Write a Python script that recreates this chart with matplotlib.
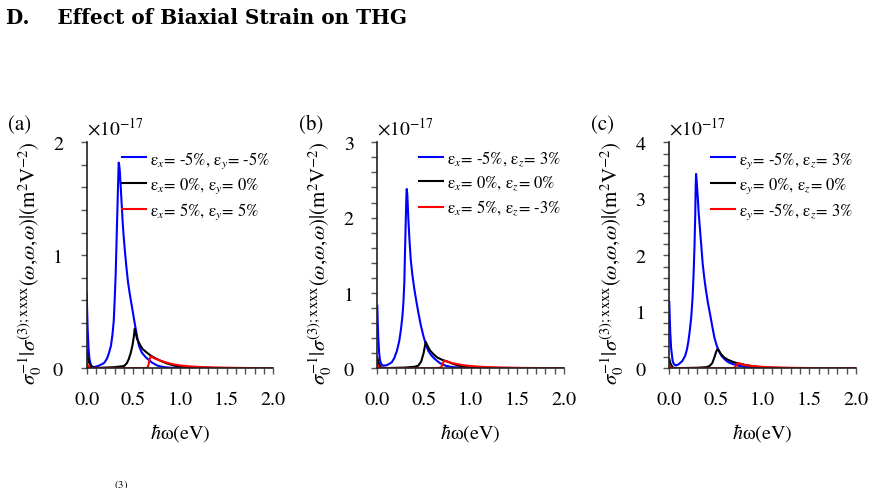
import matplotlib
matplotlib.use("Agg")
import matplotlib.pyplot as plt
from matplotlib.ticker import MultipleLocator, FormatStrFormatter

plt.rcParams['font.family'] = ['STIXGeneral', 'DejaVu Serif']
plt.rcParams['mathtext.fontset'] = 'stix'

# values in units of 1e-17 m^2 V^-2
# panel (a)
a_blue_x = [0.0, 0.005, 0.01, 0.02, 0.03, 0.045, 0.06, 0.08, 0.12, 0.16, 0.19, 0.22, 0.24, 0.26,
            0.275, 0.29, 0.30, 0.31, 0.318, 0.325, 0.332, 0.338, 0.343, 0.348, 0.355, 0.365,
            0.375, 0.385, 0.395, 0.407, 0.425, 0.443, 0.465, 0.49, 0.51, 0.525, 0.545, 0.56,
            0.59, 0.63, 0.70, 0.76, 0.83, 0.90, 1.0, 2.0]
a_blue_y = [0.66, 0.5, 0.35, 0.17, 0.08, 0.03, 0.015, 0.01, 0.02, 0.035, 0.05, 0.09, 0.14, 0.2,
            0.29, 0.42, 0.61, 0.82, 1.06, 1.28, 1.50, 1.68, 1.82, 1.80, 1.74, 1.6,
            1.45, 1.3, 1.18, 1.06, 0.9, 0.76, 0.64, 0.52, 0.42, 0.35, 0.26, 0.2,
            0.14, 0.10, 0.05, 0.023, 0.01, 0.005, 0.002, 0.0]
a_black_x = [0.0, 0.01, 0.02, 0.05, 0.1, 0.3, 0.40, 0.43, 0.45, 0.47, 0.49, 0.505, 0.515, 0.525,
             0.54, 0.57, 0.60, 0.65, 0.69, 0.74, 0.79, 0.86, 0.94, 1.02, 1.1, 1.4, 2.0]
a_black_y = [0.156, 0.1, 0.06, 0.01, 0.003, 0.01, 0.02, 0.045, 0.08, 0.13, 0.2, 0.28, 0.35, 0.31,
             0.26, 0.21, 0.17, 0.135, 0.11, 0.087, 0.067, 0.043, 0.023, 0.012, 0.008, 0.002, 0.0]
a_red_x = [0.0, 0.015, 0.03, 0.1, 0.64, 0.655, 0.665, 0.675, 0.685, 0.70, 0.72, 0.76, 0.80, 0.85,
           0.90, 0.95, 1.0, 1.1, 1.2, 1.35, 1.5, 1.7, 2.0]
a_red_y = [0.045, 0.02, 0.005, 0.0, 0.003, 0.01, 0.04, 0.08, 0.105, 0.1, 0.09, 0.077, 0.065, 0.052,
           0.04, 0.032, 0.025, 0.017, 0.012, 0.008, 0.005, 0.003, 0.001]

# panel (b)
b_blue_x = [0.0, 0.005, 0.01, 0.02, 0.03, 0.045, 0.064, 0.1, 0.13, 0.155, 0.18, 0.21, 0.235, 0.254,
            0.27, 0.28, 0.29, 0.297, 0.305, 0.312, 0.316, 0.322, 0.333, 0.345, 0.358, 0.375,
            0.397, 0.42, 0.44, 0.465, 0.494, 0.52, 0.547, 0.58, 0.62, 0.67, 0.73, 0.80, 0.90, 1.0, 2.0]
b_blue_y = [0.83, 0.6, 0.42, 0.2, 0.1, 0.05, 0.035, 0.04, 0.06, 0.08, 0.13, 0.23, 0.36, 0.52,
            0.7, 0.875, 1.15, 1.54, 1.95, 2.3, 2.38, 2.3, 1.98, 1.7, 1.45, 1.25,
            1.05, 0.88, 0.74, 0.58, 0.43, 0.32, 0.23, 0.17, 0.12, 0.07, 0.035, 0.017, 0.007, 0.003, 0.0]
b_black_x = [0.0, 0.01, 0.02, 0.04, 0.1, 0.3, 0.40, 0.44, 0.47, 0.494, 0.51, 0.52, 0.53, 0.55,
             0.57, 0.60, 0.64, 0.69, 0.75, 0.81, 0.87, 0.93, 1.0, 1.15, 1.3, 2.0]
b_black_y = [0.146, 0.09, 0.05, 0.01, 0.003, 0.01, 0.02, 0.035, 0.09, 0.19, 0.29, 0.35, 0.32, 0.27,
             0.23, 0.19, 0.146, 0.115, 0.09, 0.06, 0.035, 0.022, 0.015, 0.008, 0.004, 0.0]
b_red_x = [0.0, 0.015, 0.03, 0.1, 0.60, 0.68, 0.695, 0.705, 0.716, 0.73, 0.75, 0.80, 0.85, 0.90,
           0.95, 1.0, 1.1, 1.2, 1.35, 1.5, 1.75, 2.0]
b_red_y = [0.05, 0.02, 0.005, 0.0, 0.002, 0.008, 0.04, 0.07, 0.10, 0.095, 0.09, 0.07, 0.057, 0.045,
           0.037, 0.03, 0.021, 0.015, 0.01, 0.006, 0.003, 0.001]

# panel (c)
c_blue_x = [0.0, 0.005, 0.01, 0.02, 0.036, 0.05, 0.07, 0.1, 0.14, 0.17, 0.19, 0.205, 0.22, 0.235,
            0.25, 0.26, 0.27, 0.278, 0.283, 0.287, 0.292, 0.298, 0.305, 0.315, 0.33, 0.345,
            0.358, 0.375, 0.394, 0.415, 0.437, 0.46, 0.483, 0.505, 0.53, 0.56, 0.59, 0.63,
            0.68, 0.74, 0.80, 0.90, 1.0, 2.0]
c_blue_y = [1.17, 0.9, 0.65, 0.35, 0.13, 0.07, 0.05, 0.07, 0.13, 0.22, 0.34, 0.48, 0.67, 0.9,
            1.26, 1.65, 2.14, 2.7, 3.2, 3.44, 3.35, 3.2, 3.03, 2.75, 2.44, 2.13,
            1.85, 1.6, 1.37, 1.15, 0.96, 0.75, 0.55, 0.42, 0.31, 0.22, 0.165, 0.11,
            0.076, 0.045, 0.03, 0.01, 0.004, 0.0]
c_black_x = [0.0, 0.01, 0.02, 0.04, 0.1, 0.3, 0.40, 0.43, 0.46, 0.483, 0.50, 0.515, 0.53, 0.555,
             0.59, 0.63, 0.68, 0.73, 0.80, 0.86, 0.93, 1.0, 1.15, 1.3, 2.0]
c_black_y = [0.165, 0.1, 0.06, 0.01, 0.003, 0.01, 0.02, 0.04, 0.09, 0.19, 0.28, 0.34, 0.32, 0.25,
             0.19, 0.15, 0.115, 0.09, 0.065, 0.045, 0.028, 0.015, 0.008, 0.004, 0.0]
c_red_x = [0.0, 0.015, 0.03, 0.1, 0.65, 0.70, 0.712, 0.722, 0.734, 0.75, 0.80, 0.85, 0.90, 1.0,
           1.1, 1.2, 1.35, 1.5, 2.0]
c_red_y = [0.04, 0.015, 0.004, 0.0, 0.002, 0.01, 0.04, 0.07, 0.09, 0.085, 0.06, 0.05, 0.04, 0.025,
           0.017, 0.012, 0.008, 0.005, 0.001]

labels_a = [r'ε$_x$= -5%, ε$_y$= -5%', r'ε$_x$= 0%, ε$_y$= 0%', r'ε$_x$= 5%, ε$_y$= 5%']
labels_b = [r'ε$_x$= -5%, ε$_z$= 3%', r'ε$_x$= 0%, ε$_z$= 0%', r'ε$_x$= 5%, ε$_z$= -3%']
labels_c = [r'ε$_y$= -5%, ε$_z$= 3%', r'ε$_y$= 0%, ε$_z$= 0%', r'ε$_y$= -5%, ε$_z$= 3%']

panels = [
    ('(a)', 2, [(a_blue_x, a_blue_y), (a_black_x, a_black_y), (a_red_x, a_red_y)], labels_a, 0.0991),
    ('(b)', 3, [(b_blue_x, b_blue_y), (b_black_x, b_black_y), (b_red_x, b_red_y)], labels_b, 0.4312),
    ('(c)', 4, [(c_blue_x, c_blue_y), (c_black_x, c_black_y), (c_red_x, c_red_y)], labels_c, 0.7649),
]
colors = ['#0000ff', 'black', '#ff0000']

fig = plt.figure(figsize=(8.75, 4.89), dpi=100)

fig.text(0.007, 0.963, 'D.    Effect of Biaxial Strain on THG', fontsize=14.4, fontweight='bold',
         family='DejaVu Serif', va='center', ha='left')

ylabel = r'$\sigma_0^{-1}|\sigma^{(3);\mathrm{xxxx}}(\omega{,}\omega{,}\omega)|(\mathrm{m}^2\mathrm{V}^{-2})$'

for tag, ymax, series, labels, left in panels:
    ax = fig.add_axes([left, 0.2448, 0.2132, 0.4622])
    for (x, y), c, lab in zip(series, colors, labels):
        ax.plot(x, y, color=c, lw=1.5, label=lab, solid_joinstyle='round')
    ax.set_xlim(0, 2.0)
    ax.set_ylim(0, ymax)
    ax.xaxis.set_major_locator(MultipleLocator(0.5))
    ax.xaxis.set_minor_locator(MultipleLocator(0.1))
    ax.yaxis.set_major_locator(MultipleLocator(1))
    ax.yaxis.set_minor_locator(MultipleLocator(0.2))
    ax.xaxis.set_major_formatter(FormatStrFormatter('%.1f'))
    ax.tick_params(which='both', direction='out', color='#555555', labelsize=14.5, length=4, width=1)
    ax.tick_params(axis='x', which='major', pad=12)
    ax.tick_params(axis='y', which='major', pad=13)
    for s in ['top', 'right']:
        ax.spines[s].set_visible(False)
    for s in ['left', 'bottom']:
        ax.spines[s].set_linewidth(1.2)
        ax.spines[s].set_color('#222222')
    ax.set_xlabel(r'$\hbar$ω(eV)', fontsize=14.5, labelpad=10)
    ax.set_ylabel(ylabel, fontsize=15)
    ax.yaxis.set_label_coords(-0.23, 0.47)
    ax.legend(loc='upper right', bbox_to_anchor=(1.02, 1.0), frameon=False, fontsize=12,
              handlelength=1.45, handletextpad=0.25, labelspacing=0.35, borderaxespad=0.0)
    ax.text(-0.42, 1.08, tag, transform=ax.transAxes, fontsize=15, va='center', ha='left')
    ax.text(0.0, 1.065, r'$\times10^{-17}$', transform=ax.transAxes, fontsize=14, va='center', ha='left')

fig.text(0.13, 0.0, '$^{(3)}$', fontsize=11, va='center', ha='left')

fig.savefig('out.png', dpi=100)
